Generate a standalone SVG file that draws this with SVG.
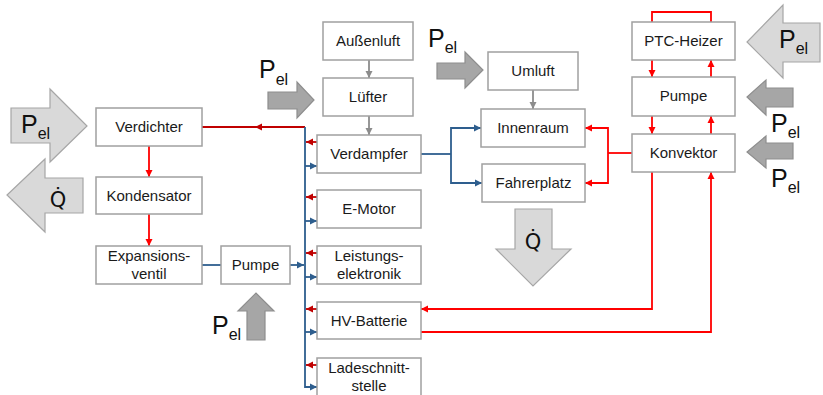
<svg xmlns="http://www.w3.org/2000/svg" width="823" height="395" viewBox="0 0 823 395">
<defs>
<style>
.box rect{fill:#fff;stroke:#a0a0a0;stroke-width:1.5}
.box text,.lbl{font-family:"Liberation Sans",Arial,sans-serif;font-size:15px;fill:#1a1a1a;text-anchor:middle}
.big{font-family:"Liberation Sans",Arial,sans-serif;font-size:25px;fill:#111}
.sub{font-size:16px}
.q{font-family:"DejaVu Sans","Liberation Sans",sans-serif;font-size:21px;fill:#111;text-anchor:middle}
.light{fill:#d9d9d9;stroke:#a6a6a6;stroke-width:1.2}
.dark{fill:#a6a6a6;stroke:#8e8e8e;stroke-width:1.2}
.c{fill:none;stroke-width:1.8}
.r{stroke:#ff0000}
.dr{stroke:#c00000}
.b{stroke:#2e5e8e}
.g{stroke:#8c8c8c}
</style>
<marker id="ar" markerUnits="userSpaceOnUse" markerWidth="8" markerHeight="8" refX="7" refY="4" orient="auto"><path d="M0,0.5 L7,4 L0,7.5 z" fill="#ff0000"/></marker>
<marker id="adr" markerUnits="userSpaceOnUse" markerWidth="8" markerHeight="8" refX="7" refY="4" orient="auto"><path d="M0,0.5 L7,4 L0,7.5 z" fill="#c00000"/></marker>
<marker id="ab" markerUnits="userSpaceOnUse" markerWidth="8" markerHeight="8" refX="7" refY="4" orient="auto"><path d="M0,0.5 L7,4 L0,7.5 z" fill="#2e5e8e"/></marker>
<marker id="ag" markerUnits="userSpaceOnUse" markerWidth="8" markerHeight="8" refX="7" refY="4" orient="auto"><path d="M0,0.5 L7,4 L0,7.5 z" fill="#8c8c8c"/></marker>
</defs>

<g id="power-arrows">
<polygon class="light" points="11,108 50,108 50,89 87,126 50,162 50,143 11,143"/>
<polygon class="light" points="83,178 45,178 45,159 7,195 45,232 45,213 83,213"/>
<polygon class="dark" points="268,92 297,92 297,82 314,100 297,118 297,109 268,109"/>
<polygon class="dark" points="437,63 465,63 465,52 483,70 465,88 465,79 437,79"/>
<polygon class="dark" points="247,340 247,311 238,311 256,293 274,311 265,311 265,340"/>
<polygon class="light" points="515,209 552,209 552,249 571,249 533,286 496,249 515,249"/>
<polygon class="light" points="820,23 783,23 783,5 747,42 783,78 783,62 820,62"/>
<polygon class="dark" points="793,88 766,88 766,80 747,97 766,115 766,107 793,107"/>
<polygon class="dark" points="793,143 766,143 766,136 747,152 766,168 766,159 793,159"/>
<text class="big" x="21" y="133">P<tspan class="sub" dy="6">el</tspan></text>
<text class="q" x="58" y="207">Q̇</text>
<text class="big" x="259" y="78">P<tspan class="sub" dy="7">el</tspan></text>
<text class="big" x="428" y="47">P<tspan class="sub" dy="6">el</tspan></text>
<text class="big" x="212" y="334">P<tspan class="sub" dy="6">el</tspan></text>
<text class="q" x="533" y="249">Q̇</text>
<text class="big" x="779" y="48">P<tspan class="sub" dy="6">el</tspan></text>
<text class="big" x="771" y="132">P<tspan class="sub" dy="6">el</tspan></text>
<text class="big" x="771" y="187">P<tspan class="sub" dy="6">el</tspan></text>
</g>

<g id="connectors">
<path class="c g" d="M369,60 V78" marker-end="url(#ag)"/>
<path class="c g" d="M369,116 V135" marker-end="url(#ag)"/>
<path class="c g" d="M533,90 V109" marker-end="url(#ag)"/>
<path class="c r" d="M149,146 V177" marker-end="url(#ar)"/>
<path class="c r" d="M149,214 V246" marker-end="url(#ar)"/>
<path class="c dr" d="M305,127 H255" marker-end="url(#adr)"/>
<path class="c dr" d="M256,127 H202"/>
<path class="c dr" d="M317,142 H306" marker-end="url(#adr)"/>
<path class="c dr" d="M317,197 H306" marker-end="url(#adr)"/>
<path class="c dr" d="M317,253 H306" marker-end="url(#adr)"/>
<path class="c dr" d="M317,309 H306" marker-end="url(#adr)"/>
<path class="c dr" d="M317,365 H306" marker-end="url(#adr)"/>
<path class="c b" d="M305,127 V387 H317" marker-end="url(#ab)"/>
<path class="c b" d="M305,166 H317" marker-end="url(#ab)"/>
<path class="c b" d="M305,221 H317" marker-end="url(#ab)"/>
<path class="c b" d="M305,277 H317" marker-end="url(#ab)"/>
<path class="c b" d="M305,332 H317" marker-end="url(#ab)"/>
<path class="c b" d="M202,265 H221"/>
<path class="c b" d="M290,265 H304" marker-end="url(#ab)"/>
<path class="c b" d="M421,154 H451"/>
<path class="c b" d="M451,154 V128 H481" marker-end="url(#ab)"/>
<path class="c b" d="M451,154 V183 H482" marker-end="url(#ab)"/>
<path class="c r" d="M632,153 H608"/>
<path class="c r" d="M608,153 V128 H585" marker-end="url(#ar)"/>
<path class="c r" d="M608,153 V183 H585" marker-end="url(#ar)"/>
<path class="c r" d="M652,22 V12 H711 V22"/>
<path class="c r" d="M652,60 V77" marker-end="url(#ar)"/>
<path class="c r" d="M652,116 V134" marker-end="url(#ar)"/>
<path class="c r" d="M711,77 V60" marker-end="url(#ar)"/>
<path class="c r" d="M711,134 V116" marker-end="url(#ar)"/>
<path class="c r" d="M652,172 V309 H421" marker-end="url(#ar)"/>
<path class="c r" d="M421,332 H711 V172" marker-end="url(#ar)"/>
</g>

<g id="verdichter" class="box"><rect x="96" y="108" width="106" height="38"/><text x="149" y="132">Verdichter</text></g>
<g id="kondensator" class="box"><rect x="96" y="177" width="106" height="37"/><text x="149" y="201">Kondensator</text></g>
<g id="expansionsventil" class="box"><rect x="96" y="246" width="106" height="38"/><text x="149" y="261">Expansions-</text><text x="149" y="279">ventil</text></g>
<g id="pumpe-links" class="box"><rect x="221" y="246" width="69" height="38"/><text x="255.5" y="270">Pumpe</text></g>
<g id="aussenluft" class="box"><rect x="323" y="22" width="90" height="38"/><text x="368" y="46">Außenluft</text></g>
<g id="luefter" class="box"><rect x="323" y="78" width="90" height="38"/><text x="368" y="102">Lüfter</text></g>
<g id="verdampfer" class="box"><rect x="317" y="135" width="104" height="38"/><text x="369" y="159">Verdampfer</text></g>
<g id="e-motor" class="box"><rect x="317" y="190" width="104" height="38"/><text x="369" y="214">E-Motor</text></g>
<g id="leistungselektronik" class="box"><rect x="317" y="246" width="104" height="38"/><text x="369" y="261">Leistungs-</text><text x="369" y="279">elektronik</text></g>
<g id="hv-batterie" class="box"><rect x="317" y="302" width="104" height="37"/><text x="369" y="326">HV-Batterie</text></g>
<g id="ladeschnittstelle" class="box"><rect x="317" y="358" width="104" height="38"/><text x="369" y="373">Ladeschnitt-</text><text x="369" y="391">stelle</text></g>
<g id="umluft" class="box"><rect x="488" y="52" width="90" height="38"/><text x="533" y="76">Umluft</text></g>
<g id="innenraum" class="box"><rect x="481" y="109" width="104" height="38"/><text x="533" y="133">Innenraum</text></g>
<g id="fahrerplatz" class="box"><rect x="482" y="164" width="103" height="38"/><text x="533.5" y="188">Fahrerplatz</text></g>
<g id="ptc-heizer" class="box"><rect x="632" y="22" width="103" height="38"/><text x="683.5" y="46">PTC-Heizer</text></g>
<g id="pumpe-rechts" class="box"><rect x="632" y="77" width="103" height="39"/><text x="683.5" y="101">Pumpe</text></g>
<g id="konvektor" class="box"><rect x="632" y="134" width="103" height="38"/><text x="683.5" y="158">Konvektor</text></g>
</svg>
